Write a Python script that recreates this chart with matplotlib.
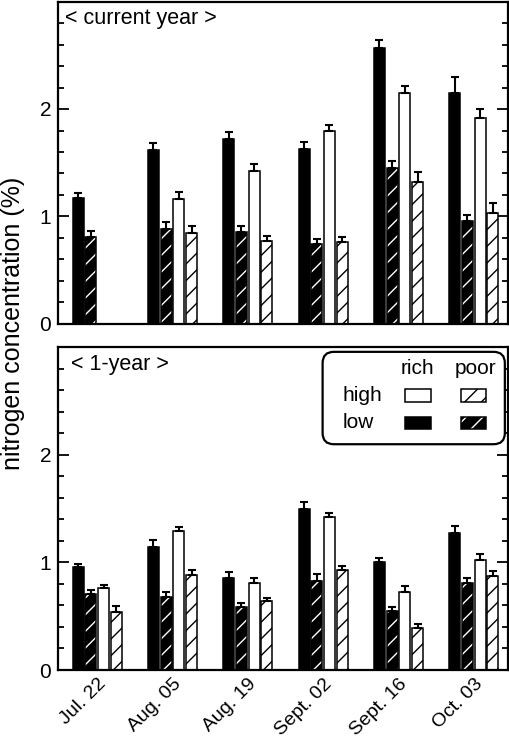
import numpy as np
import matplotlib
matplotlib.use("Agg")
import matplotlib.pyplot as plt
from matplotlib.patches import FancyBboxPatch, Rectangle

plt.rcParams['font.family'] = ['Liberation Sans', 'DejaVu Sans']
plt.rcParams['hatch.linewidth'] = 1.0

dates = ["Jul. 22", "Aug. 05", "Aug. 19", "Sept. 02", "Sept. 16", "Oct. 03"]

# < current year >
cur_rich_low = [1.175, 1.616, 1.724, 1.625, 2.564, 2.152]
cur_rich_low_err = [0.04, 0.065, 0.065, 0.068, 0.078, 0.149]
cur_poor_low = [0.812, 0.884, 0.853, 0.744, 1.454, 0.955]
cur_poor_low_err = [0.05, 0.068, 0.062, 0.047, 0.065, 0.056]
cur_rich_high = [np.nan, 1.160, 1.420, 1.792, 2.152, 1.913]
cur_rich_high_err = [np.nan, 0.068, 0.068, 0.056, 0.062, 0.087]
cur_poor_high = [np.nan, 0.844, 0.772, 0.760, 1.321, 1.030]
cur_poor_high_err = [np.nan, 0.065, 0.047, 0.05, 0.096, 0.093]

# < 1-year >
one_rich_low = [0.955, 1.141, 0.859, 1.491, 1.002, 1.271]
one_rich_low_err = [0.034, 0.068, 0.05, 0.068, 0.034, 0.068]
one_poor_low = [0.710, 0.682, 0.583, 0.831, 0.552, 0.812]
one_poor_low_err = [0.031, 0.046, 0.037, 0.06, 0.037, 0.047]
one_rich_high = [0.760, 1.290, 0.812, 1.420, 0.729, 1.020]
one_rich_high_err = [0.028, 0.037, 0.04, 0.04, 0.05, 0.06]
one_poor_high = [0.540, 0.881, 0.639, 0.930, 0.388, 0.871]
one_poor_high_err = [0.058, 0.05, 0.028, 0.037, 0.04, 0.05]

W, H = 510, 738
fig = plt.figure(figsize=(W / 100, H / 100), dpi=100)
ax_top = fig.add_axes([58 / W, 1 - 324 / H, 450 / W, 322.5 / H])
ax_bot = fig.add_axes([58 / W, 1 - 670 / H, 450 / W, 323 / H])

x = np.arange(len(dates))
pitch = 0.169
bw = 0.146

# (face, hatch colour or None)
styles = [("black", None), ("black", "white"), ("white", None), ("white", "black")]


def draw_bar(ax, xs, vals, face, hatch_col):
    if hatch_col is None:
        ax.bar(xs, vals, bw, color=face, edgecolor="black", linewidth=1.1, zorder=2)
    else:
        ax.bar(xs, vals, bw, color=face, edgecolor=hatch_col, hatch="//", linewidth=0, zorder=2)
        ax.bar(xs, vals, bw, fill=False, edgecolor="black", linewidth=1.1, zorder=3)


def panel(ax, series, title, title_x):
    for k, (vals, errs) in enumerate(series):
        xs = x + (k - 1.5) * pitch
        face, hc = styles[k]
        vals = np.array(vals, dtype=float)
        errs = np.array(errs, dtype=float)
        ok = ~np.isnan(vals)
        draw_bar(ax, xs[ok], vals[ok], face, hc)
        ax.errorbar(xs[ok], vals[ok], yerr=[np.zeros(ok.sum()), errs[ok]], fmt="none",
                    ecolor="black", elinewidth=1.5, capsize=3, capthick=1.5, zorder=4)
    ax.set_xlim(-0.521, 5.455)
    ax.set_ylim(0, 3.0)
    ax.set_yticks([0, 1, 2])
    ax.set_yticks(np.arange(0, 3.0, 0.2), minor=True)
    ax.tick_params(axis="y", which="both", direction="in", left=True, right=True,
                   labelsize=15, pad=5)
    ax.tick_params(axis="y", which="major", length=8, width=1.3)
    ax.tick_params(axis="y", which="minor", length=4.5, width=1.3)
    ax.tick_params(axis="x", length=0)
    for s in ax.spines.values():
        s.set_linewidth(1.6)
    ax.text(title_x, 0.947, title, transform=ax.transAxes, fontsize=15.5,
            ha="left", va="center")


panel(ax_top, [(cur_rich_low, cur_rich_low_err), (cur_poor_low, cur_poor_low_err),
               (cur_rich_high, cur_rich_high_err), (cur_poor_high, cur_poor_high_err)],
      "< current year >", 0.0156)
ax_top.set_xticks(x)
ax_top.set_xticklabels([])

panel(ax_bot, [(one_rich_low, one_rich_low_err), (one_poor_low, one_poor_low_err),
               (one_rich_high, one_rich_high_err), (one_poor_high, one_poor_high_err)],
      "< 1-year >", 0.030)
ax_bot.set_xticks(x)
ax_bot.set_xticklabels(dates, rotation=45, ha="right", va="top",
                       rotation_mode="anchor", fontsize=14)
ax_bot.tick_params(axis="x", pad=4)

# legend box
asp = 450 / 323
box = FancyBboxPatch((0.588, 0.699), 0.405, 0.286, transform=ax_bot.transAxes,
                     boxstyle="round,pad=0,rounding_size=0.025", mutation_aspect=asp,
                     facecolor="white", edgecolor="black", linewidth=1.6, zorder=5)
ax_bot.add_patch(box)
tkw = dict(transform=ax_bot.transAxes, fontsize=15, zorder=6, va="center")
ax_bot.text(0.799, 0.932, "rich", ha="center", **tkw)
ax_bot.text(0.927, 0.932, "poor", ha="center", **tkw)
ax_bot.text(0.633, 0.851, "high", ha="left", **tkw)
ax_bot.text(0.633, 0.765, "low", ha="left", **tkw)
cols = [0.771, 0.895]
rows = [0.745, 0.831]  # low, high
for ci, cx in enumerate(cols):
    for ri, ry in enumerate(rows):
        face = "black" if ri == 0 else "white"
        if ci == 0:
            ax_bot.add_patch(Rectangle((cx, ry), 0.057, 0.038, transform=ax_bot.transAxes,
                                       facecolor=face, edgecolor="black", linewidth=1.1, zorder=6))
        else:
            hc = "white" if ri == 0 else "black"
            ax_bot.add_patch(Rectangle((cx, ry), 0.057, 0.038, transform=ax_bot.transAxes,
                                       facecolor=face, edgecolor=hc, hatch="//", linewidth=0, zorder=6))
            ax_bot.add_patch(Rectangle((cx, ry), 0.057, 0.038, transform=ax_bot.transAxes,
                                       fill=False, edgecolor="black", linewidth=1.1, zorder=7))

fig.text(0.002, 1 - 323.5 / H, "nitrogen concentration (%)", rotation=90, fontsize=18,
         ha="left", va="center")

fig.savefig("out.png", dpi=100)
